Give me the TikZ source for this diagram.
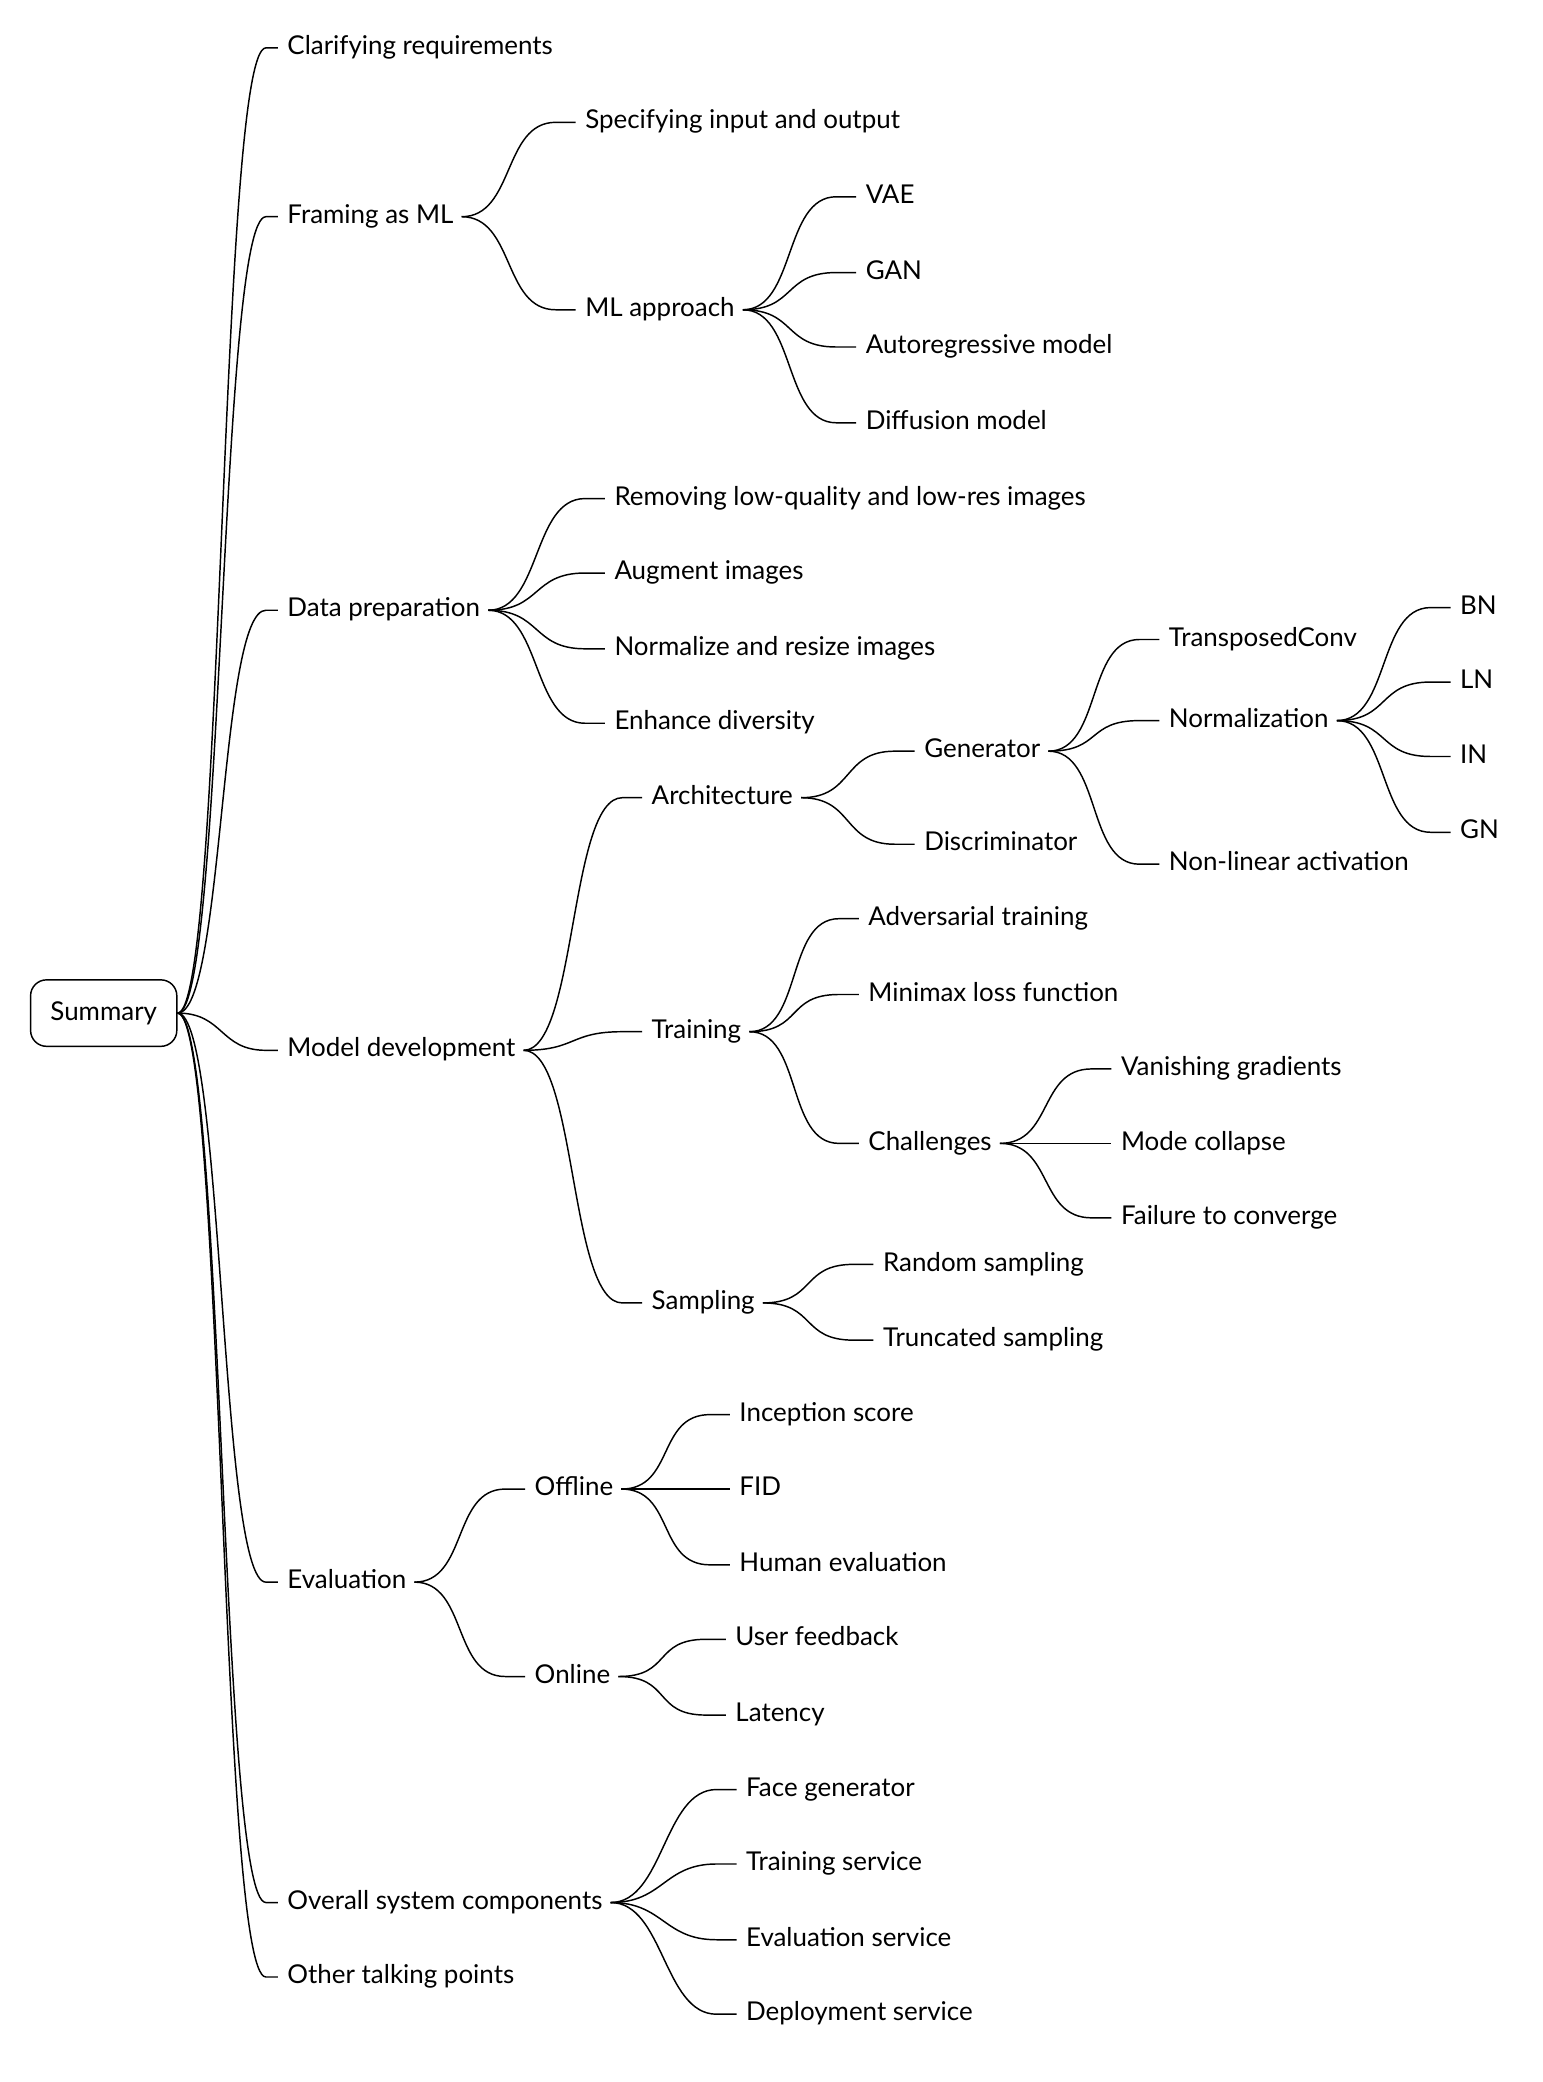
\documentclass[tikz,border=0pt]{standalone}
\usepackage{fontspec}
\setmainfont{Lato}
\begin{document}
\begin{tikzpicture}[x=1pt,y=-1pt,
  t/.style={anchor=west,inner sep=0pt,font=\fontsize{19.5}{23}\selectfont,text height=14pt,text depth=4pt},
  ln/.style={draw=black,line width=1.1pt}]
\useasboundingbox (0,0) rectangle (1160,1566);
\newcommand\conn[2]{\draw[ln] ([xshift=6]#1.east) .. controls +(40,0) and +(-40,0) .. ([xshift=-22]#2.west) -- ([xshift=-7]#2.west);}
\newcommand\sconn[1]{\draw[ln] (sum.east) .. controls +(35,0) and +(-35,0) .. ([xshift=-16]#1.west) -- ([xshift=-7]#1.west);}
\node[draw,line width=1.1pt,rounded corners=12pt,minimum width=110pt,minimum height=50pt,inner sep=0pt,font=\fontsize{19.5}{23}\selectfont] (sum) at (78,762) {Summary};
\node[t] (a) at (216,36) {Clarifying requirements};
\node[t] (b) at (216,163) {Framing as ML};
\node[t] (c) at (216,459) {Data preparation};
\node[t] (d) at (216,790) {Model development};
\node[t] (e) at (216,1190) {Evaluation};
\node[t] (f) at (216,1431) {Overall system components};
\node[t] (g) at (216,1487) {Other talking points};
\foreach \n in {a,b,c,d,e,f,g} {\sconn{\n}}
\node[t] (b1) at (440,92) {Specifying input and output};
\node[t] (b2) at (440,233) {ML approach};
\conn{b}{b1}\conn{b}{b2}
\node[t] (b21) at (651,148) {VAE};
\node[t] (b22) at (651,205) {GAN};
\node[t] (b23) at (651,261) {Autoregressive model};
\node[t] (b24) at (651,318) {Diffusion model};
\foreach \n in {b21,b22,b23,b24} {\conn{b2}{\n}}
\node[t] (c1) at (462,375) {Removing low-quality and low-res images};
\node[t] (c2) at (462,431) {Augment images};
\node[t] (c3) at (462,488) {Normalize and resize images};
\node[t] (c4) at (462,544) {Enhance diversity};
\foreach \n in {c1,c2,c3,c4} {\conn{c}{\n}}
\node[t] (d1) at (490,600) {Architecture};
\node[t] (d2) at (490,776) {Training};
\node[t] (d3) at (490,980) {Sampling};
\foreach \n in {d1,d2,d3} {\conn{d}{\n}}
\node[t] (d11) at (695,565) {Generator};
\node[t] (d12) at (695,635) {Discriminator};
\conn{d1}{d11}\conn{d1}{d12}
\node[t] (g1) at (879,481) {TransposedConv};
\node[t] (g2) at (879,542) {Normalization};
\node[t] (g3) at (879,650) {Non-linear activation};
\foreach \n in {g1,g2,g3} {\conn{d11}{\n}}
\node[t] (n1) at (1098,457) {BN};
\node[t] (n2) at (1098,513) {LN};
\node[t] (n3) at (1098,569) {IN};
\node[t] (n4) at (1098,626) {GN};
\foreach \n in {n1,n2,n3,n4} {\conn{g2}{\n}}
\node[t] (d21) at (653,691) {Adversarial training};
\node[t] (d22) at (653,748) {Minimax loss function};
\node[t] (d23) at (653,860) {Challenges};
\foreach \n in {d21,d22,d23} {\conn{d2}{\n}}
\node[t] (h1) at (843,804) {Vanishing gradients};
\node[t] (h2) at (843,860) {Mode collapse};
\node[t] (h3) at (843,916) {Failure to converge};
\foreach \n in {h1,h2,h3} {\conn{d23}{\n}}
\node[t] (s1) at (664,951) {Random sampling};
\node[t] (s2) at (664,1008) {Truncated sampling};
\conn{d3}{s1}\conn{d3}{s2}
\node[t] (e1) at (402,1120) {Offline};
\node[t] (e2) at (402,1261) {Online};
\conn{e}{e1}\conn{e}{e2}
\node[t] (o1) at (556,1064) {Inception score};
\node[t] (o2) at (556,1120) {FID};
\node[t] (o3) at (556,1177) {Human evaluation};
\foreach \n in {o1,o2,o3} {\conn{e1}{\n}}
\node[t] (p1) at (553,1233) {User feedback};
\node[t] (p2) at (553,1290) {Latency};
\conn{e2}{p1}\conn{e2}{p2}
\node[t] (f1) at (561,1346) {Face generator};
\node[t] (f2) at (561,1402) {Training service};
\node[t] (f3) at (561,1459) {Evaluation service};
\node[t] (f4) at (561,1515) {Deployment service};
\foreach \n in {f1,f2,f3,f4} {\conn{f}{\n}}
\end{tikzpicture}
\end{document}
